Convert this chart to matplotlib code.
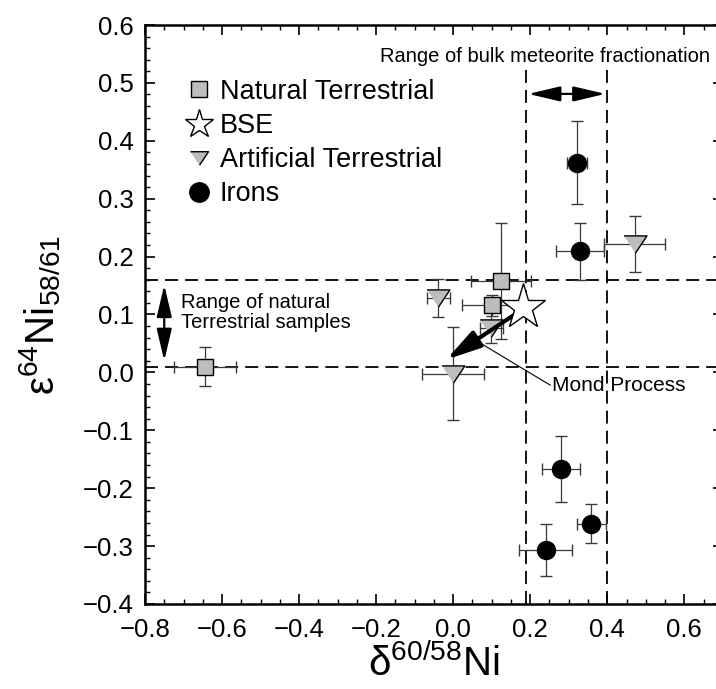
import numpy as np
import matplotlib
matplotlib.use('Agg')
from matplotlib import pyplot as plt
from matplotlib.lines import Line2D
from matplotlib.ticker import MultipleLocator, FuncFormatter
from matplotlib import rcParams

rcParams['font.family'] = 'Liberation Sans'
rcParams['mathtext.fontset'] = 'custom'
rcParams['mathtext.rm'] = 'Liberation Sans'
rcParams['mathtext.it'] = 'Liberation Sans:italic'

# data
natural_x = [-0.645, 0.125, 0.100]
natural_y = [0.010, 0.158, 0.116]
natural_xerr = [0.080, 0.078, 0.077]
natural_yerr = [0.034, 0.100, 0.018]

artificial_x = [-0.039, 0.099, 0.000, 0.471]
artificial_y = [0.128, 0.077, -0.002, 0.222]
artificial_xerr = [0.030, 0.030, 0.080, 0.080]
artificial_yerr = [0.033, 0.027, 0.080, 0.048]

irons_x = [0.321, 0.329, 0.279, 0.359, 0.240]
irons_y = [0.362, 0.209, -0.167, -0.261, -0.306]
irons_xerr = [0.026, 0.062, 0.049, 0.037, 0.069]
irons_yerr = [0.072, 0.049, 0.057, 0.034, 0.045]

bse_x = [0.181]
bse_y = [0.113]

terr_range = [0.01, 0.16]      # range of natural terrestrial samples
meteor_range = [0.19, 0.40]    # range of bulk meteorite fractionation

gray = '#bdbdbd'
ecol = '#3a3a3a'
tri = [(-1, 0.75), (1, 0.75), (0, -0.75)]

fig = plt.figure(figsize=(7.16, 6.89), dpi=100)
ax = fig.add_axes([0.2025, 0.1234, 0.807, 0.8403])

ax.set_xlim(-0.8, 0.7)
ax.set_ylim(-0.4, 0.6)

dash = (0, (7.2, 3.9))
for y in terr_range:
    ax.axhline(y, color='black', lw=1.3, ls=dash, zorder=1)
for x in meteor_range:
    ax.vlines(x, -0.4, 0.525, color='black', lw=1.3, ls=dash, zorder=1)

ebkw = dict(ls='none', ecolor=ecol, elinewidth=0.9, capsize=4.5, capthick=0.9,
            markeredgecolor='black', markeredgewidth=1.0, zorder=3)
ax.errorbar(natural_x, natural_y, xerr=natural_xerr, yerr=natural_yerr,
            marker='s', ms=12, mfc=gray, **ebkw)
ax.errorbar(artificial_x, artificial_y, xerr=artificial_xerr, yerr=artificial_yerr,
            marker=tri, ms=16.5, mfc=gray, **ebkw)
ax.errorbar(irons_x, irons_y, xerr=irons_xerr, yerr=irons_yerr,
            marker='o', ms=13, mfc='black', **ebkw)

# Mond process arrow
ax.annotate('', xy=(-0.018, 0.022), xytext=(0.16, 0.10),
            arrowprops=dict(arrowstyle='-|>,head_length=1.5,head_width=0.4',
                            lw=3, color='black', shrinkA=0, shrinkB=0,
                            mutation_scale=14), zorder=4)
ax.plot(bse_x, bse_y, ls='none', marker='*', ms=34, mfc='white',
        mec='black', mew=1.0, zorder=5)
ax.plot([0.062, 0.252], [0.054, -0.022], color='black', lw=0.8, zorder=4)
ax.text(0.256, -0.022, 'Mond Process', fontsize=15, va='center', ha='left')

# range arrows
akw = dict(arrowstyle='<|-|>,head_length=1.4,head_width=0.33', lw=1.6,
           color='black', shrinkA=0, shrinkB=0, mutation_scale=14)
ax.annotate('', xy=(-0.75, 0.151), xytext=(-0.75, 0.020), arrowprops=akw)
ax.annotate('', xy=(0.195, 0.481), xytext=(0.395, 0.481), arrowprops=akw)
ax.text(-0.707, 0.104, 'Range of natural\nTerrestrial samples', fontsize=14.5,
        va='center', ha='left', linespacing=1.05)
ax.text(0.668, 0.545, 'Range of bulk meteorite fractionation', fontsize=14.5,
        va='center', ha='right')

# legend
handles = [Line2D([], [], ls='none', marker='s', ms=11, mfc=gray, mec='black'),
           Line2D([], [], ls='none', marker='*', ms=21, mfc='white', mec='black'),
           Line2D([], [], ls='none', marker=tri, ms=13, mfc=gray, mec='black'),
           Line2D([], [], ls='none', marker='o', ms=14, mfc='black', mec='black')]
labels = ['Natural Terrestrial', 'BSE', 'Artificial Terrestrial', 'Irons']
ax.legend(handles, labels, loc='upper left', bbox_to_anchor=(0.071, 0.907),
          frameon=False, fontsize=19.5, handlelength=0.95, handletextpad=0.3,
          labelspacing=0.3, borderpad=0, borderaxespad=0)

# axes style
for s in ax.spines.values():
    s.set_linewidth(1.8)
ax.xaxis.set_major_locator(MultipleLocator(0.2))
ax.xaxis.set_minor_locator(MultipleLocator(0.05))
ax.yaxis.set_major_locator(MultipleLocator(0.1))
ax.yaxis.set_minor_locator(MultipleLocator(0.02))
fmt = FuncFormatter(lambda v, p: ('%.1f' % (0 if abs(v) < 1e-9 else v)).replace('-', '\u2212'))
ax.xaxis.set_major_formatter(fmt)
ax.yaxis.set_major_formatter(fmt)
ax.tick_params(which='both', direction='in', top=True, right=True, labelsize=18.5)
ax.tick_params(which='major', length=7, width=1.2)
ax.tick_params(which='minor', length=3.5, width=1.0)
ax.tick_params(axis='x', pad=10)
ax.tick_params(axis='y', pad=8)

ax.set_xlabel('\u03b4$^{60/58}$Ni', fontsize=29)
ax.set_ylabel('\u03b5$^{64}$Ni$_{58/61}$', fontsize=29)
ax.xaxis.set_label_coords(0.5, -0.068)
ax.yaxis.set_label_coords(-0.142, 0.5)

fig.savefig('out.png', dpi=100)
plt.close(fig)
